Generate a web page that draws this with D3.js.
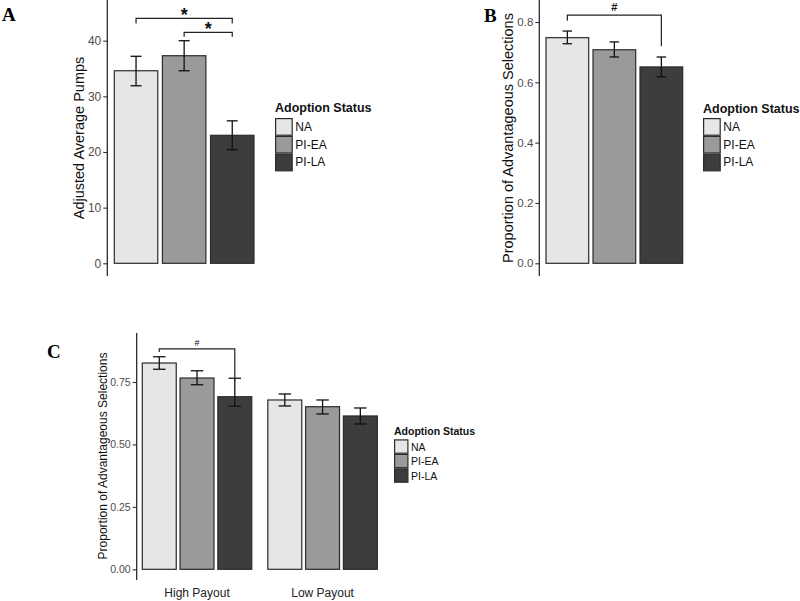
<!DOCTYPE html>
<html>
<head>
<meta charset="utf-8">
<script src="https://cdn.jsdelivr.net/npm/d3@7"></script>
<style>
  body { margin: 0; background: #fff; }
  svg { display: block; font-family: "Liberation Sans", Arial, sans-serif; }
</style>
</head>
<body>
<div id="container"></div>
<script>
// data
var statuses = ["NA", "PI-EA", "PI-LA"];
var statusFill = ["#e6e6e6", "#9a9a9a", "#3d3d3d"];

// panel A: BART pumps
var pumpsMean = [34.6, 37.3, 23.0];
var pumpsLow = [31.9, 34.6, 20.4];
var pumpsHigh = [37.2, 40.0, 25.6];
var pumpsTicks = [0, 10, 20, 30, 40];
// brackets: [from, to, level, leftEnd, rightEnd, symbol]
var pumpsBrackets = [["NA", "PI-LA", 44.0, 43.1, 43.1, "*"], ["PI-EA", "PI-LA", 41.5, 40.7, 40.7, "*"]];

// panel B: IGT overall
var igtMean = [0.748, 0.708, 0.651];
var igtLow = [0.728, 0.684, 0.618];
var igtHigh = [0.770, 0.734, 0.684];
var igtTicks = [0, 0.2, 0.4, 0.6, 0.8];
var igtBrackets = [["NA", "PI-LA", 0.823, 0.804, 0.72, "#"]];

// panel C: IGT by payout
var payouts = ["High Payout", "Low Payout"];
var payoutMean = [[0.826, 0.766, 0.691], [0.678, 0.651, 0.614]];
var payoutLow = [[0.801, 0.739, 0.653], [0.654, 0.622, 0.582]];
var payoutHigh = [[0.851, 0.795, 0.765], [0.702, 0.678, 0.646]];
var payoutTicks = [0, 0.25, 0.5, 0.75];
var payoutBrackets = [["NA", "PI-LA", 0.883, 0.870, 0.755, "#"]];

var svg = d3.select("#container")
  .append("svg")
    .attr("width", 800)
    .attr("height", 601);

var color = d3.scaleOrdinal().domain(statuses).range(statusFill);

function yAxis(g, y, ticks, fmt, x0, fontSize, top, bottom) {
  var ax = g.append("g")
    .attr("transform", "translate(" + x0 + ",0)")
    .call(d3.axisLeft(y).tickValues(ticks).tickFormat(fmt).tickSize(4).tickPadding(2).tickSizeOuter(0));
  ax.attr("font-family", null).attr("font-size", null);
  ax.select(".domain").remove();
  ax.selectAll(".tick line").attr("stroke", "#333").attr("stroke-width", 1.1);
  ax.selectAll(".tick text").attr("fill", "#4d4d4d").attr("font-size", fontSize);
  g.append("line")
    .attr("x1", x0).attr("x2", x0)
    .attr("y1", top).attr("y2", bottom)
    .attr("stroke", "#1a1a1a").attr("stroke-width", 1.2);
}

function bars(g, rows, x, y, xOff, cap) {
  g.selectAll(null)
    .data(rows)
    .enter()
    .append("rect")
    .attr("x", function (d) { return xOff + x(d.status); })
    .attr("y", function (d) { return y(d.mean); })
    .attr("width", x.bandwidth())
    .attr("height", function (d) { return y(0) - y(d.mean); })
    .attr("fill", function (d) { return color(d.status); })
    .attr("stroke", "#2b2b2b")
    .attr("stroke-width", 1.2);

  var eb = g.selectAll(null)
    .data(rows)
    .enter()
    .append("g")
    .attr("stroke", "#111")
    .attr("stroke-width", 1.3)
    .attr("transform", function (d) { return "translate(" + (xOff + x(d.status) + x.bandwidth() / 2) + ",0)"; });
  eb.append("line").attr("y1", function (d) { return y(d.low); }).attr("y2", function (d) { return y(d.high); });
  eb.append("line").attr("x1", -cap / 2).attr("x2", cap / 2)
    .attr("y1", function (d) { return y(d.low); }).attr("y2", function (d) { return y(d.low); });
  eb.append("line").attr("x1", -cap / 2).attr("x2", cap / 2)
    .attr("y1", function (d) { return y(d.high); }).attr("y2", function (d) { return y(d.high); });
}

function brackets(g, list, x, y, xOff, symSize, symWeight, symDy) {
  list.forEach(function (b) {
    var x1 = xOff + x(b[0]) + x.bandwidth() / 2,
        x2 = xOff + x(b[1]) + x.bandwidth() / 2;
    g.append("path")
      .attr("d", "M" + x1 + "," + y(b[3]) + "V" + y(b[2]) + "H" + x2 + "V" + y(b[4]))
      .attr("fill", "none")
      .attr("stroke", "#222")
      .attr("stroke-width", 1.2);
    g.append("text")
      .attr("x", (x1 + x2) / 2)
      .attr("y", y(b[2]) + symDy)
      .attr("text-anchor", "middle")
      .attr("font-size", symSize)
      .attr("font-weight", symWeight)
      .attr("fill", "#111")
      .text(b[5]);
  });
}

function yTitle(g, text, cx, cy, size) {
  g.append("text")
    .attr("transform", "translate(" + cx + "," + cy + ") rotate(-90)")
    .attr("text-anchor", "middle")
    .attr("dominant-baseline", "central")
    .attr("font-size", size)
    .attr("fill", "#111")
    .text(text);
}

function legend(g, x0, titleY, keyTop, key, titleSize, labelSize) {
  g.append("text")
    .attr("x", x0).attr("y", titleY)
    .attr("font-size", titleSize)
    .attr("font-weight", "bold")
    .attr("fill", "#111")
    .text("Adoption Status");
  var items = g.selectAll(null)
    .data(statuses)
    .enter()
    .append("g")
    .attr("transform", function (d, i) { return "translate(" + x0 + "," + (keyTop + i * key) + ")"; });
  items.append("rect")
    .attr("x", 0.6).attr("y", 0.6)
    .attr("width", key - 1.2).attr("height", key - 1.2)
    .attr("fill", function (d) { return color(d); })
    .attr("stroke", "#2b2b2b")
    .attr("stroke-width", 1.2);
  items.append("text")
    .attr("x", key + 2.5)
    .attr("y", key / 2)
    .attr("dominant-baseline", "central")
    .attr("font-size", labelSize)
    .attr("fill", "#111")
    .text(function (d) { return d; });
}

function panelLabel(text, x, y) {
  svg.append("text")
    .attr("x", x).attr("y", y)
    .attr("font-family", "'Liberation Serif', 'Times New Roman', serif")
    .attr("font-weight", "bold")
    .attr("font-size", 19)
    .attr("fill", "#000")
    .text(text);
}

function rowsOf(means, lows, highs) {
  return statuses.map(function (s, i) {
    return { status: s, mean: means[i], low: lows[i], high: highs[i] };
  });
}

// ---- Panel A
var gA = svg.append("g");
var yA = d3.scaleLinear().domain([0, 40]).range([263.3, 40.7]);
var xA = d3.scaleBand().domain(statuses).range([114.3, 254]).paddingInner(0.096).paddingOuter(0);
yAxis(gA, yA, pumpsTicks, d3.format("d"), 107.3, 12, 0, 276);
bars(gA, rowsOf(pumpsMean, pumpsLow, pumpsHigh), xA, yA, 0, 11);
brackets(gA, pumpsBrackets, xA, yA, 0, 18, "bold", 3);
yTitle(gA, "Adjusted Average Pumps", 79, 138, 14.5);
legend(gA, 275, 112, 118, 17.8, 12.5, 12);
panelLabel("A", 2, 21);

// ---- Panel B
var gB = svg.append("g");
var yB = d3.scaleLinear().domain([0, 0.8]).range([263.3, 22]);
var xB = d3.scaleBand().domain(statuses).range([546, 682.7]).paddingInner(0.0915).paddingOuter(0);
yAxis(gB, yB, igtTicks, d3.format(".1f"), 539.3, 11.5, 0, 276);
bars(gB, rowsOf(igtMean, igtLow, igtHigh), xB, yB, 0, 9.5);
brackets(gB, igtBrackets, xB, yB, 0, 11, "bold", -4);
yTitle(gB, "Proportion of Advantageous Selections", 508, 138, 14.5);
legend(gB, 703, 113, 118, 17.8, 12.5, 12);
panelLabel("B", 484, 22);

// ---- Panel C
var gC = svg.append("g");
var yC = d3.scaleLinear().domain([0, 0.75]).range([569.3, 382]);
var x0C = d3.scaleBand().domain(payouts).range([142.3, 377.3]).paddingInner(0.128).paddingOuter(0);
var x1C = d3.scaleBand().domain(statuses).range([0, x0C.bandwidth()]).paddingInner(0.101).paddingOuter(0);
yAxis(gC, yC, payoutTicks, d3.format(".2f"), 136.7, 10.5, 333, 580);
payouts.forEach(function (p, j) {
  bars(gC, rowsOf(payoutMean[j], payoutLow[j], payoutHigh[j]), x1C, yC, x0C(p), 12.5);
});
brackets(gC, payoutBrackets, x1C, yC, x0C("High Payout"), 9, "normal", -3);
gC.selectAll(null)
  .data(payouts)
  .enter()
  .append("text")
  .attr("x", function (d) { return x0C(d) + x0C.bandwidth() / 2; })
  .attr("y", 597)
  .attr("text-anchor", "middle")
  .attr("font-size", 12)
  .attr("fill", "#222")
  .text(function (d) { return d; });
yTitle(gC, "Proportion of Advantageous Selections", 103.3, 456, 12);
legend(gC, 394, 435, 439.3, 14.5, 10.5, 10.5);
panelLabel("C", 47, 358);
</script>
</body>
</html>
